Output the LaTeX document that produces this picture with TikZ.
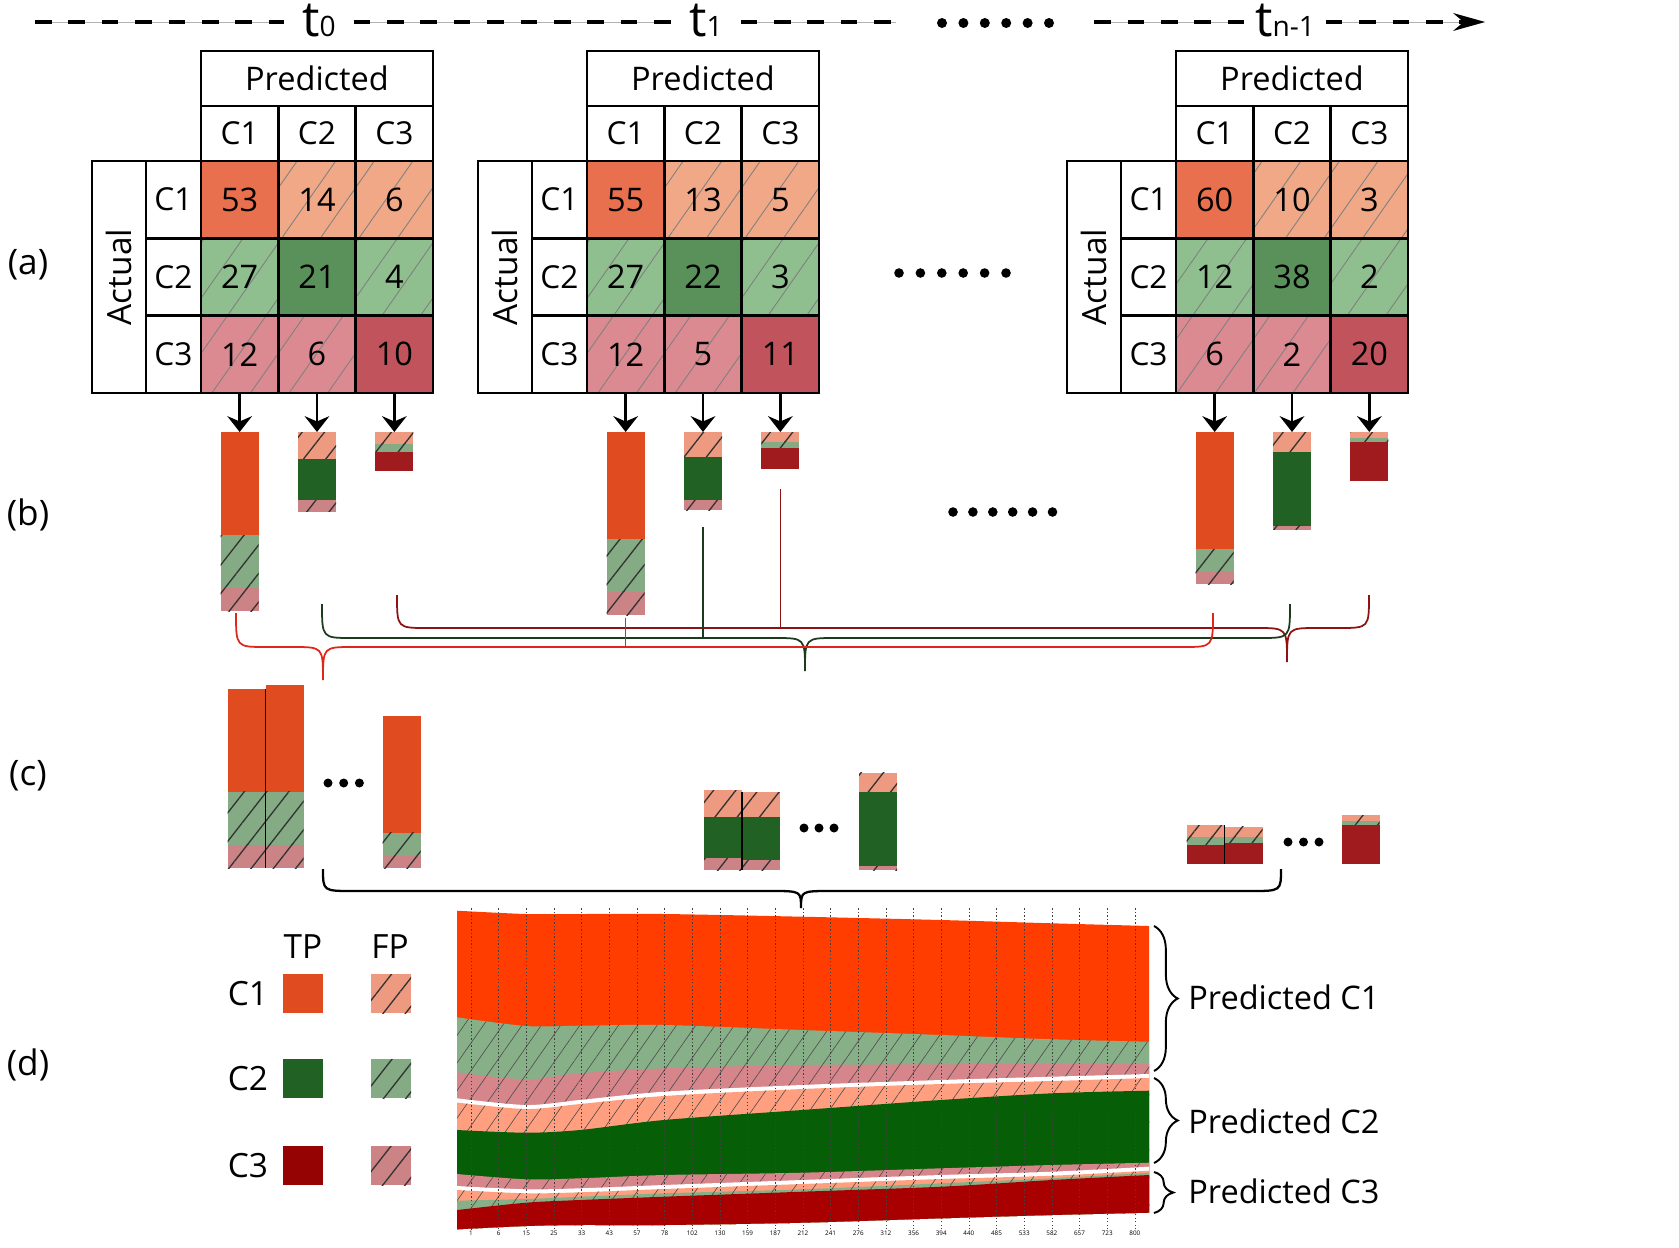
\documentclass[tikz,border=0pt]{standalone}
\usepackage{fontspec}
\setmainfont{Open Sans}
\usetikzlibrary{positioning,arrows.meta,patterns.meta,decorations.pathreplacing}
% matrix colours
\definecolor{mtpa}{HTML}{E9704E}
\definecolor{mfpa}{HTML}{F0A886}
\definecolor{mtpb}{HTML}{5A915A}
\definecolor{mfpb}{HTML}{8FBE8F}
\definecolor{mtpc}{HTML}{C0535B}
\definecolor{mfpc}{HTML}{DB8A91}
% bar colours
\definecolor{tpa}{HTML}{E04B1F}
\definecolor{fpa}{HTML}{EE9A80}
\definecolor{tpb}{HTML}{216224}
\definecolor{fpb}{HTML}{84AB84}
\definecolor{tpc}{HTML}{A01B1E}
\definecolor{fpc}{HTML}{CB8386}
\definecolor{lgtpc}{HTML}{950303}
% stream colours
\definecolor{stpa}{HTML}{FF3D00}
\definecolor{sfpa}{HTML}{FF9F80}
\definecolor{stpb}{HTML}{065E06}
\definecolor{sfpb}{HTML}{88B088}
\definecolor{stpc}{HTML}{A80000}
\definecolor{sfpc}{HTML}{D6858B}
% braces
\definecolor{brone}{HTML}{E0261A}
\definecolor{brtwo}{HTML}{1C3A1C}
\definecolor{brthree}{HTML}{8E1212}

\tikzset{
  mline/.style={draw=black, line width=1.6pt, inner sep=0pt},
  headbox/.style={mline, minimum width=4.64cm, minimum height=1.1cm, font=\fontsize{18.5}{20}\selectfont},
  colhead/.style={mline, minimum width=1.5467cm, minimum height=1.1cm, font=\fontsize{18}{20}\selectfont},
  rowhead/.style={mline, minimum width=1.1cm, minimum height=1.5467cm, font=\fontsize{18}{20}\selectfont},
  actbox/.style={mline, rotate=90, minimum width=4.64cm, minimum height=1.08cm, font=\fontsize{19}{20}\selectfont},
  cellbox/.style={mline, minimum width=1.5467cm, minimum height=1.5467cm, font=\fontsize{18.5}{20}\selectfont},
  tpcell/.style={cellbox, fill=#1},
  fpcell/.style={cellbox, preaction={fill=#1}, pattern={Lines[angle=55,distance=18pt,line width=0.5pt]}, pattern color=gray},
  barhatch/.style={preaction={fill=#1}, pattern={Lines[angle=52,distance=10pt,line width=0.75pt]}, pattern color=black!80},
  bartpa/.style={fill=tpa}, barfpa/.style={barhatch=fpa},
  bartpb/.style={fill=tpb}, barfpb/.style={barhatch=fpb},
  bartpc/.style={fill=tpc}, barfpc/.style={barhatch=fpc},
  strhatch/.style={preaction={fill=#1}, pattern={Lines[angle=55,distance=9pt,line width=0.35pt]}, pattern color=black!70},
  flowarrow/.style={line width=1.6pt, -{Stealth[length=9pt,width=14pt,inset=3pt]}},
  timeline/.style={line width=1.9pt, dash pattern=on 9.5pt off 9.5pt, preaction={draw=gray!60, line width=0.5pt, solid}},
  tlab/.style={font=\fontsize{28}{30}\selectfont, inner xsep=10pt, inner ysep=0pt},
  panellab/.style={font=\fontsize{20}{22}\selectfont},
  leglab/.style={font=\fontsize{19}{20}\selectfont},
  legsq/.style={minimum width=0.8cm, minimum height=0.78cm, inner sep=0pt},
  grouplab/.style={font=\fontsize{18.5}{20}\selectfont, anchor=west, inner sep=0pt},
  groupbrace/.style={decorate, decoration={brace, amplitude=13.5pt}, line width=1.1pt},
  ticklab/.style={font=\fontsize{3.6}{4}\selectfont, inner sep=0.5pt},
  gridline/.style={draw=black!75, line width=0.35pt, dash pattern=on 0.8pt off 1.2pt},
  sepline/.style={draw=black, line width=0.7pt}
}

% stacked bar: name, x centre, y top, actual C1, C2, C3, index of TP segment
\newcommand{\barstack}[7]{%
  \pgfmathsetmacro{\ya}{#3+1.95*#4}%
  \pgfmathsetmacro{\yb}{\ya+1.95*#5}%
  \pgfmathsetmacro{\yc}{\yb+1.95*#6}%
  \ifnum#7=1 \tikzset{segone/.style=bartpa}\else\tikzset{segone/.style=barfpa}\fi
  \ifnum#7=2 \tikzset{segtwo/.style=bartpb}\else\tikzset{segtwo/.style=barfpb}\fi
  \ifnum#7=3 \tikzset{segthree/.style=bartpc}\else\tikzset{segthree/.style=barfpc}\fi
  \path[segone] (#2-19,#3) rectangle (#2+19,\ya);
  \path[segtwo] (#2-19,\ya) rectangle (#2+19,\yb);
  \path[segthree] (#2-19,\yb) rectangle (#2+19,\yc);
  \coordinate (#1) at (#2,#3);
  \coordinate (#1-bot) at (#2,\yc);
  \coordinate (#1-tl) at (#2-19,#3);
  \coordinate (#1-tr) at (#2+19,#3);
  \coordinate (#1-bl) at (#2-19,\yc);
  \coordinate (#1-br) at (#2+19,\yc);
}
% same, standing on a base line
\newcommand{\basebar}[7]{%
  \pgfmathsetmacro{\ytop}{#3-1.95*(#4+#5+#6)}%
  \barstack{#1}{#2}{\ytop}{#4}{#5}{#6}{#7}}
% curly brace: style, x left, x tip, x right, y ends, y base, y tip
\newcommand{\curlybrace}[7]{%
  \draw[#1] (#2,#5) .. controls (#2,#6) .. (#2+30,#6) -- (#3-30,#6)
    .. controls (#3,#6) .. (#3,#7) .. controls (#3,#6) .. (#3+30,#6)
    -- (#4-30,#6) .. controls (#4,#6) .. (#4,#5);}

\begin{document}
\begin{tikzpicture}[x=0.02cm, y=-0.02cm]
\useasboundingbox (0,0) rectangle (1679,1247);

% time line
\coordinate (tstart) at (35,22);
\coordinate (tend) at (1485,22);
\node[tlab, anchor=base] (t0) at (319,37) {t{\fontsize{16}{16}\selectfont 0}};
\node[tlab, anchor=base] (t1) at (706,37) {t{\fontsize{16}{16}\selectfont 1}};
\node[inner sep=0pt, minimum width=3.96cm] (tdots) at (995,22) {};
\node[tlab, anchor=base, inner xsep=6pt] (tn) at (1285,37) {t{\fontsize{16}{16}\selectfont n-1}};
\draw[timeline] (tstart) -- (tstart -| t0.west);
\draw[timeline] (tstart -| t0.east) -- (tstart -| t1.west);
\draw[timeline] (tstart -| t1.east) -- (tstart -| tdots.west);
\draw[timeline] (tstart -| tdots.east) -- (tstart -| tn.west);
\draw[timeline, -{Stealth[length=18pt,width=10pt]}] (tstart -| tn.east) -- (tend);
\foreach \i in {0,...,5} \fill (942+21.4*\i,23) circle[radius=5];

% panel labels
\node[panellab] (lab-a) at (28,265) {(a)};
\node[panellab] (lab-b) at (28,515) {(b)};
\node[panellab] (lab-c) at (28,776) {(c)};
\node[panellab] (lab-d) at (28,1065) {(d)};

% confusion matrices and their column bars
\foreach \dx/\m/\va/\vb/\vc/\vd/\ve/\vf/\vg/\vh/\vi in
  {0/A/53/14/6/27/21/4/12/6/10, 386/B/55/13/5/27/22/3/12/5/11, 975/C/60/10/3/12/38/2/6/2/20}{
\begin{scope}[shift={(\dx,0)}]
  \node[headbox] (\m-pred) at (317,78.5) {Predicted};
  \node[colhead] (\m-h1) at (239.67,133.5) {C1};
  \node[colhead] (\m-h2) at (317,133.5) {C2};
  \node[colhead] (\m-h3) at (394.33,133.5) {C3};
  \node[actbox] (\m-act) at (119,277) {Actual};
  \node[rowhead] (\m-r1) at (173.5,199.67) {C1};
  \node[rowhead] (\m-r2) at (173.5,277) {C2};
  \node[rowhead] (\m-r3) at (173.5,354.33) {C3};
  \node[tpcell=mtpa] (\m-11) at (239.67,199.67) {\va};
  \node[fpcell=mfpa] (\m-12) at (317,199.67) {\vb};
  \node[fpcell=mfpa] (\m-13) at (394.33,199.67) {\vc};
  \node[fpcell=mfpb] (\m-21) at (239.67,277) {\vd};
  \node[tpcell=mtpb] (\m-22) at (317,277) {\ve};
  \node[fpcell=mfpb] (\m-23) at (394.33,277) {\vf};
  \node[fpcell=mfpc] (\m-31) at (239.67,354.33) {\vg};
  \node[fpcell=mfpc] (\m-32) at (317,354.33) {\vh};
  \node[tpcell=mtpc] (\m-33) at (394.33,354.33) {\vi};
  \barstack{b\m1}{239.67}{432}{\va}{\vd}{\vg}{1}
  \barstack{b\m2}{317}{432}{\vb}{\ve}{\vh}{2}
  \barstack{b\m3}{394.33}{432}{\vc}{\vf}{\vi}{3}
  \draw[flowarrow] (\m-31.south) -- (b\m1);
  \draw[flowarrow] (\m-32.south) -- (b\m2);
  \draw[flowarrow] (\m-33.south) -- (b\m3);
\end{scope}
}
\foreach \i in {0,...,5} {
  \fill (899+21.4*\i,273) circle[radius=4.8];
  \fill (953+19.9*\i,512) circle[radius=4.8];
}

% braces gathering bars of the same predicted class
\curlybrace{brthree, line width=1pt}{397}{1287}{1369}{595}{628}{662}
\curlybrace{brtwo, line width=1pt}{322}{805}{1290}{604}{638}{671}
\curlybrace{brone, line width=1pt}{236}{323}{1213}{613}{647}{680}
\draw[brone, line width=0.7pt] (bB1-bot) ++(0,3) -- ++(0,30);
\draw[brtwo, line width=0.7pt] (bB2-bot) ++(0,17) -- ++(0,111);
\draw[brthree, line width=0.7pt] (bB3-bot) ++(0,20) -- ++(0,139);

% grouped bars
\basebar{g11}{246.5}{868}{53}{27}{12}{1}
\basebar{g12}{284.5}{868}{55}{27}{12}{1}
\basebar{g13}{401.5}{868}{60}{12}{6}{1}
\basebar{g21}{723}{870}{14}{21}{6}{2}
\basebar{g22}{761}{870}{13}{22}{5}{2}
\basebar{g23}{878}{870}{10}{38}{2}{2}
\basebar{g31}{1205.5}{864}{6}{4}{10}{3}
\basebar{g32}{1243.5}{864}{5}{3}{11}{3}
\basebar{g33}{1360.5}{864}{3}{2}{20}{3}
\draw[sepline] (g11-tr) -- (g11-br);
\draw[sepline] (g22-tl) -- (g22-bl);
\draw[sepline] (g31-tr) -- (g31-br);
\foreach \i in {0,1,2} {
  \fill (328+15.7*\i,783) circle[radius=4.5];
  \fill (804+15*\i,828) circle[radius=4.5];
  \fill (1288+15.5*\i,842) circle[radius=4.5];
}
\curlybrace{black, line width=1.3pt}{323}{801}{1281}{869}{891}{908}

% legend
\node[leglab] (lg-tp) at (303,947) {TP};
\node[leglab] (lg-fp) at (390,947) {FP};
\foreach \k/\y/\tc/\fc in {1/993.5/tpa/fpa, 2/1078.5/tpb/fpb, 3/1165.5/lgtpc/fpc} {
  \node[leglab] (lg-c\k) at (248,\y) {C\k};
  \node[legsq, fill=\tc] (lg-t\k) at (303,\y) {};
  \node[legsq, barhatch=\fc] (lg-f\k) at (391,\y) {};
}

% stream of predictions over time
\begin{scope}
\clip plot[smooth] coordinates {(457,910.7) (526,914) (580,914) (664,914) (802,916.7) (941,920) (1052,923.3) (1149,926)}
  -- plot[smooth] coordinates {(1149,1212.7) (1052,1215) (941,1218.3) (802,1222.7) (664,1225) (580,1225) (526,1226) (457,1229.3)} -- cycle;
\path[fill=stpa] plot[smooth] coordinates {(457,910.7) (526,914) (580,914) (664,914) (802,916.7) (941,920) (1052,923.3) (1149,926)} -- (1149,1240) -- (457,1240) -- cycle;
\path[strhatch=sfpb] plot[smooth] coordinates {(457,1017.3) (526,1026) (580,1025.7) (664,1025) (802,1030) (941,1035) (1052,1039.3) (1149,1041.7)} -- (1149,1240) -- (457,1240) -- cycle;
\path[strhatch=sfpc] plot[smooth] coordinates {(457,1072.3) (526,1079.3) (580,1073.3) (664,1068.3) (802,1065) (941,1064.3) (1052,1064) (1149,1064)} -- (1149,1240) -- (457,1240) -- cycle;
\path[fill=white] plot[smooth] coordinates {(457,1098.3) (526,1105) (580,1100) (664,1091.7) (802,1085) (941,1080) (1052,1076.7) (1149,1074)} -- (1149,1240) -- (457,1240) -- cycle;
\path[strhatch=sfpa] plot[smooth] coordinates {(457,1102.5) (526,1109) (580,1104) (664,1096) (802,1089) (941,1084) (1052,1081) (1149,1078)} -- (1149,1240) -- (457,1240) -- cycle;
\path[fill=stpb] plot[smooth] coordinates {(457,1130) (526,1132.7) (580,1130) (664,1120) (802,1110) (941,1100) (1052,1093.3) (1149,1090.7)} -- (1149,1240) -- (457,1240) -- cycle;
\path[strhatch=sfpc] plot[smooth] coordinates {(457,1174) (526,1179.3) (580,1178.3) (664,1175) (802,1172.7) (941,1168.3) (1052,1165) (1149,1162.7)} -- (1149,1240) -- (457,1240) -- cycle;
\path[fill=white] plot[smooth] coordinates {(457,1186) (526,1189.3) (580,1188.3) (664,1185) (802,1180) (941,1175) (1052,1171.7) (1149,1166.7)} -- (1149,1240) -- (457,1240) -- cycle;
\path[strhatch=sfpa] plot[smooth] coordinates {(457,1190) (526,1193.3) (580,1192.3) (664,1189) (802,1184) (941,1179) (1052,1175.7) (1149,1170.7)} -- (1149,1240) -- (457,1240) -- cycle;
\path[strhatch=sfpb] plot[smooth] coordinates {(457,1200.7) (526,1199) (580,1196.7) (664,1193.3) (802,1189.3) (941,1183.3) (1052,1178.3) (1149,1172.7)} -- (1149,1240) -- (457,1240) -- cycle;
\path[fill=stpc] plot[smooth] coordinates {(457,1210) (526,1202.7) (580,1200) (664,1196.7) (802,1191.7) (941,1186.7) (1052,1180) (1149,1175)} -- (1149,1240) -- (457,1240) -- cycle;
\end{scope}
\foreach \lab [count=\i from 0] in {1,6,15,25,33,43,57,78,102,130,159,187,212,241,276,312,356,394,440,485,533,582,657,723,800} {
  \node[ticklab] (tk\i) at (471+27.66*\i,1233) {\lab};
  \draw[gridline] (tk\i.north) -- ++(0,-322);
}

% predicted class groups
\node[grouplab] (pg1) at (1188,997) {Predicted C1};
\node[grouplab] (pg2) at (1188,1121) {Predicted C2};
\node[grouplab] (pg3) at (1188,1191) {Predicted C3};
\coordinate (pg1t) at (1154,926);  \coordinate (pg1b) at (1154,1071);
\coordinate (pg2t) at (1154,1078); \coordinate (pg2b) at (1154,1163);
\coordinate (pg3t) at (1154,1172); \coordinate (pg3b) at (1154,1213);
\draw[groupbrace] (pg1t) -- (pg1b);
\draw[groupbrace] (pg2t) -- (pg2b);
\draw[groupbrace, decoration={amplitude=11pt}] (pg3t) -- (pg3b);
\end{tikzpicture}
\end{document}
